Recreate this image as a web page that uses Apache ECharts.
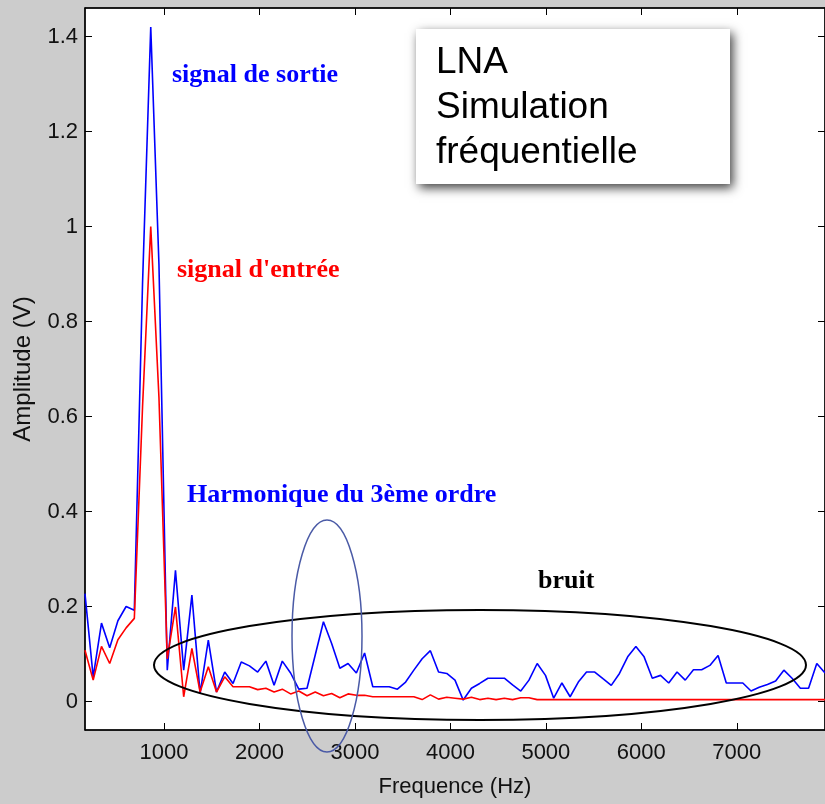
<!DOCTYPE html>
<html><head><meta charset="utf-8">
<script src="https://cdn.jsdelivr.net/npm/echarts@6/dist/echarts.min.js"></script>
<style>html,body{margin:0;padding:0;background:#cccccc}#c{width:825px;height:804px}</style>
</head><body><div id="c"></div>
<script>
const frequencies = [172,258,345,431,517,603,689,775,861,947,1034,1120,1206,1292,1378,1464,1550,1636,1723,1809,1895,1981,2067,2153,2239,2326,2412,2498,2584,2670,2756,2842,2928,3015,3101,3187,3273,3359,3445,3531,3617,3704,3790,3876,3962,4048,4134,4220,4307,4393,4479,4565,4651,4737,4823,4909,4996,5082,5168,5254,5340,5426,5512,5598,5685,5771,5857,5943,6029,6115,6201,6287,6374,6460,6546,6632,6718,6804,6890,6977,7063,7149,7235,7321,7407,7493,7579,7666,7752,7838,7924];
const signalSortie = [0.227,0.052,0.165,0.113,0.170,0.200,0.192,0.88,1.42,0.92,0.066,0.276,0.066,0.224,0.017,0.129,0.020,0.062,0.038,0.083,0.075,0.062,0.085,0.034,0.085,0.060,0.026,0.028,0.098,0.168,0.122,0.070,0.080,0.060,0.102,0.031,0.031,0.031,0.026,0.041,0.066,0.090,0.107,0.062,0.059,0.045,0.003,0.028,0.038,0.049,0.049,0.049,0.035,0.022,0.045,0.080,0.055,0.007,0.039,0.010,0.041,0.062,0.062,0.048,0.034,0.059,0.094,0.116,0.094,0.049,0.055,0.039,0.062,0.045,0.067,0.067,0.076,0.097,0.039,0.039,0.039,0.022,0.030,0.036,0.043,0.066,0.049,0.028,0.028,0.080,0.060];
const signalEntree = [0.108,0.045,0.116,0.080,0.130,0.155,0.175,0.62,1.00,0.64,0.09,0.199,0.010,0.112,0.020,0.073,0.020,0.052,0.031,0.031,0.031,0.025,0.028,0.020,0.026,0.016,0.022,0.012,0.020,0.012,0.017,0.008,0.016,0.013,0.013,0.010,0.010,0.010,0.010,0.010,0.010,0.004,0.014,0.005,0.009,0.007,0.005,0.009,0.004,0.007,0.004,0.007,0.004,0.008,0.008,0.004,0.004,0.004,0.004,0.004,0.004,0.004,0.004,0.004,0.004,0.004,0.004,0.004,0.004,0.004,0.004,0.004,0.004,0.004,0.004,0.004,0.004,0.004,0.004,0.004,0.004,0.004,0.004,0.004,0.004,0.004,0.004,0.004,0.004,0.004,0.004];
const xTicks = [1000,2000,3000,4000,5000,6000,7000];
const yTicks = [0,0.2,0.4,0.6,0.8,1,1.2,1.4];
const xLabel = 'Frequence (Hz)';
const yLabel = 'Amplitude (V)';
const boxLines = ['LNA','Simulation','fréquentielle'];

const pairs = (ys) => frequencies.map((f, i) => [f, ys[i]]);
const fmtY = v => String(Math.round(v * 10) / 10);
const fmtX = v => String(Math.round(v));
const FONT = 'Arial, "Liberation Sans", sans-serif';
const SERIF = '"Times New Roman", "Liberation Serif", serif';
const X_MIN = 172.27, X_MAX = 7924, Y_MIN = -0.06, Y_MAX = 1.46;

const tickStyle = { inside: true, length: 7, lineStyle: { color: '#000', width: 1 } };

const chart = echarts.init(document.getElementById('c'), null, { renderer: 'canvas' });
chart.setOption({
  animation: false,
  backgroundColor: '#cccccc',
  grid: { left: 85, top: 8, width: 743, height: 722, show: true, backgroundColor: '#ffffff', borderColor: '#000', borderWidth: 1 },
  xAxis: [
    { type: 'value', min: X_MIN, max: X_MAX, position: 'bottom',
      name: xLabel, nameLocation: 'middle', nameGap: 46,
      nameTextStyle: { fontFamily: FONT, fontSize: 22, color: '#111' },
      axisLine: { show: true, onZero: false, lineStyle: { color: '#000', width: 1.5 } },
      axisTick: Object.assign({ customValues: xTicks }, tickStyle),
      axisLabel: { customValues: xTicks, formatter: fmtX, margin: 12, fontFamily: FONT, fontSize: 22, color: '#111' },
      splitLine: { show: false } },
    { type: 'value', min: X_MIN, max: X_MAX, position: 'top',
      axisLine: { show: true, onZero: false, lineStyle: { color: '#000', width: 1.5 } },
      axisTick: Object.assign({ customValues: xTicks }, tickStyle),
      axisLabel: { show: false }, splitLine: { show: false } }
  ],
  yAxis: [
    { type: 'value', min: Y_MIN, max: Y_MAX, position: 'left',
      name: yLabel, nameLocation: 'middle', nameGap: 50, nameRotate: 90,
      nameTextStyle: { fontFamily: FONT, fontSize: 24, color: '#111' },
      axisLine: { show: true, onZero: false, lineStyle: { color: '#000', width: 1.5 } },
      axisTick: Object.assign({ customValues: yTicks }, tickStyle),
      axisLabel: { customValues: yTicks, formatter: fmtY, margin: 7, fontFamily: FONT, fontSize: 22, color: '#111' },
      splitLine: { show: false } },
    { type: 'value', min: Y_MIN, max: Y_MAX, position: 'right',
      axisLine: { show: true, onZero: false, lineStyle: { color: '#000', width: 1.5 } },
      axisTick: Object.assign({ customValues: yTicks }, tickStyle),
      axisLabel: { show: false }, splitLine: { show: false } }
  ],
  series: [
    { name: 'signal de sortie', type: 'line', data: pairs(signalSortie), showSymbol: false,
      lineStyle: { color: '#0000ff', width: 1.6 }, itemStyle: { color: '#0000ff' }, z: 2 },
    { name: "signal d'entrée", type: 'line', data: pairs(signalEntree), showSymbol: false,
      lineStyle: { color: '#ff0000', width: 1.6 }, itemStyle: { color: '#ff0000' }, z: 3 }
  ],
  graphic: [
    { type: 'text', left: 172, top: 62, z: 10,
      style: { text: 'signal de sortie', fill: '#0000ff', font: 'bold 26px ' + SERIF } },
    { type: 'text', left: 177, top: 257, z: 10,
      style: { text: "signal d'entrée", fill: '#ff0000', font: 'bold 26px ' + SERIF } },
    { type: 'text', left: 187, top: 482, z: 10,
      style: { text: 'Harmonique du 3ème ordre', fill: '#0000ff', font: 'bold 26px ' + SERIF } },
    { type: 'text', left: 538, top: 568, z: 10,
      style: { text: 'bruit', fill: '#000000', font: 'bold 26px ' + SERIF } },
    { type: 'ellipse', z: 9, shape: { cx: 480, cy: 665, rx: 326, ry: 55 },
      style: { fill: 'none', stroke: '#000', lineWidth: 2 } },
    { type: 'ellipse', z: 9, shape: { cx: 327, cy: 636, rx: 35, ry: 116 },
      style: { fill: 'none', stroke: '#4a5aa6', lineWidth: 1.5 } },
    { type: 'rect', z: 11, shape: { x: 416, y: 29, width: 314, height: 155 },
      style: { fill: '#ffffff', shadowBlur: 10, shadowOffsetX: 3, shadowOffsetY: 4, shadowColor: 'rgba(0,0,0,0.75)' } },
    { type: 'text', z: 12, x: 436, y: 40,
      style: { text: boxLines.join('\n'), fill: '#000', font: '37px ' + FONT, lineHeight: 45 } }
  ]
});
</script></body></html>
